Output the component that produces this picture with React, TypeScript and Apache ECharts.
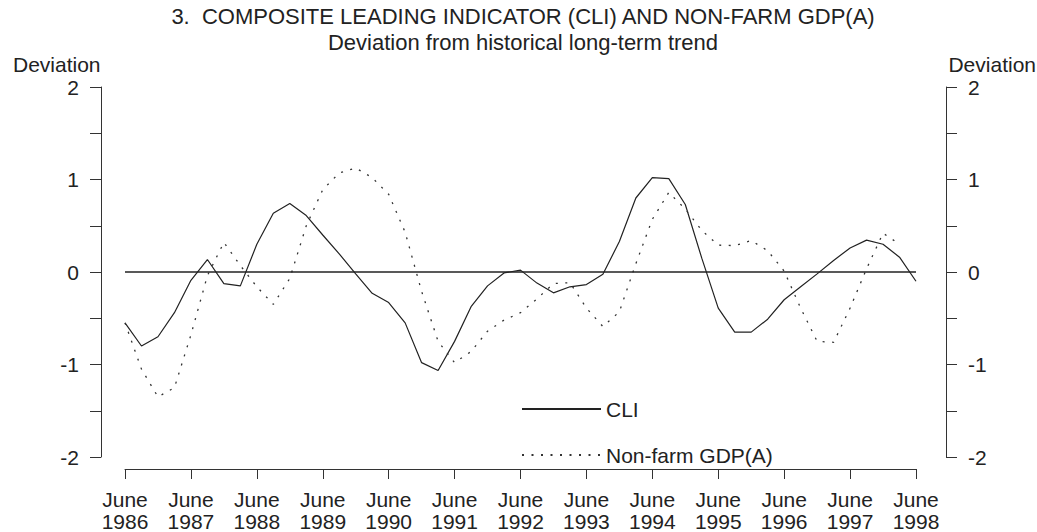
import React, { useEffect, useRef } from "react";
import * as echarts from "echarts";

const startYear = 1986;
const tickYears = [1986, 1987, 1988, 1989, 1990, 1991, 1992, 1993, 1994, 1995, 1996, 1997, 1998];
const quarterMonths = ["06", "09", "12", "03"];

// Quarterly values starting June 1986
const cliValues = [
  -0.55, -0.80, -0.70, -0.44, -0.09, 0.135, -0.125, -0.15,
  0.30, 0.635, 0.74, 0.61, 0.40, 0.196, -0.02, -0.23,
  -0.33, -0.55, -0.98, -1.065, -0.75, -0.375, -0.15, -0.01,
  0.02, -0.12, -0.225, -0.16, -0.136, -0.025, 0.33, 0.80,
  1.02, 1.01, 0.73, 0.15, -0.39, -0.65, -0.65, -0.51,
  -0.30, -0.16, -0.02, 0.125, 0.26, 0.345, 0.30, 0.16, -0.10,
];
const gdpValues = [
  -0.55, -1.05, -1.35, -1.25, -0.68, -0.04, 0.32, 0.07,
  -0.16, -0.35, -0.07, 0.50, 0.89, 1.07, 1.125, 1.02,
  0.84, 0.43, -0.21, -0.75, -0.98, -0.86, -0.64, -0.52,
  -0.44, -0.29, -0.125, -0.115, -0.39, -0.59, -0.43, 0.09,
  0.57, 0.86, 0.68, 0.45, 0.29, 0.285, 0.34, 0.23,
  0.01, -0.39, -0.75, -0.76, -0.39, 0.035, 0.42, 0.30,
];
const yTicks = [-2, -1, 0, 1, 2];

const categories = cliValues.map((_, i) => {
  const m = quarterMonths[i % 4];
  const y = startYear + Math.floor((i + 2) / 4);
  return `${y}-${m}`;
});

const FONT = "'Liberation Sans', Arial, sans-serif";
const FS = 21;
const TXT = "#222";

export default function App() {
  const ref = useRef<HTMLDivElement>(null);
  useEffect(() => {
    document.body.style.margin = "0";
    const chart = echarts.init(ref.current!, undefined, { renderer: "svg" });
    const yLabel = (v: number) => (Number.isInteger(v) ? String(v) : "");
    const yAxisCommon = {
      type: "value",
      min: yTicks[0],
      max: yTicks[yTicks.length - 1],
      interval: 0.5,
      splitLine: { show: false },
      axisLine: { show: true, onZero: false, lineStyle: { color: "#333", width: 1 } },
      axisTick: { show: true, length: 11, lineStyle: { color: "#333" } },
    };
    chart.setOption({
      animation: false,
      backgroundColor: "#fff",
      textStyle: { fontFamily: FONT },
      grid: { left: 125, right: 121, top: 87, bottom: 72, containLabel: false },
      graphic: [
        { type: "text", x: 523, y: 16, style: { text: "3.  COMPOSITE LEADING INDICATOR (CLI) AND NON-FARM GDP(A)", font: `22px ${FONT}`, fill: TXT, align: "center", verticalAlign: "middle" } },
        { type: "text", x: 523, y: 42, style: { text: "Deviation from historical long-term trend", font: `22px ${FONT}`, fill: TXT, align: "center", verticalAlign: "middle" } },
        { type: "text", x: 13, y: 64, style: { text: "Deviation", font: `${FS}px ${FONT}`, fill: TXT, align: "left", verticalAlign: "middle" } },
        { type: "text", x: 1036, y: 64, style: { text: "Deviation", font: `${FS}px ${FONT}`, fill: TXT, align: "right", verticalAlign: "middle" } },
      ],
      legend: {
        orient: "vertical",
        left: 521,
        top: 398,
        padding: 0,
        itemWidth: 79,
        itemHeight: 14,
        itemGap: 24,
        itemStyle: { opacity: 0 },
        textStyle: { fontSize: FS, lineHeight: 22, color: TXT, fontFamily: FONT },
        data: ["CLI", "Non-farm GDP(A)"],
      },
      xAxis: {
        type: "category",
        data: categories,
        boundaryGap: false,
        offset: 12,
        axisLine: { show: true, onZero: false, lineStyle: { color: "#333", width: 1 } },
        axisTick: { show: true, interval: 3, length: 10, lineStyle: { color: "#333" } },
        axisLabel: {
          interval: 3,
          margin: 19,
          fontSize: FS,
          lineHeight: 22,
          color: TXT,
          fontFamily: FONT,
          formatter: (v: string) => {
            const [y, m] = v.split("-");
            return m === "06" && tickYears.includes(+y) ? `June\n${y}` : "";
          },
        },
        splitLine: { show: false },
      },
      yAxis: [
        {
          ...yAxisCommon,
          position: "left",
          offset: 24,
          axisLabel: { fontSize: FS, color: TXT, margin: 22, fontFamily: FONT, formatter: yLabel },
        },
        {
          ...yAxisCommon,
          position: "right",
          offset: 30,
          axisLabel: { fontSize: FS, color: TXT, margin: 22, fontFamily: FONT, formatter: yLabel },
        },
      ],
      series: [
        {
          name: "CLI",
          type: "line",
          data: cliValues,
          symbol: "none",
          lineStyle: { color: "#222", width: 1.2, type: "solid" },
          itemStyle: { color: "#222" },
          markLine: {
            silent: true,
            symbol: "none",
            label: { show: false },
            lineStyle: { color: "#222", width: 1.5, type: "solid" },
            data: [{ yAxis: 0 }],
          },
        },
        {
          name: "Non-farm GDP(A)",
          type: "line",
          data: gdpValues,
          symbol: "none",
          lineStyle: { color: "#333", width: 1.3, type: [2, 7.5] },
          itemStyle: { color: "#333" },
        },
      ],
    });
    return () => chart.dispose();
  }, []);
  return <div ref={ref} style={{ width: 1037, height: 532 }} />;
}
